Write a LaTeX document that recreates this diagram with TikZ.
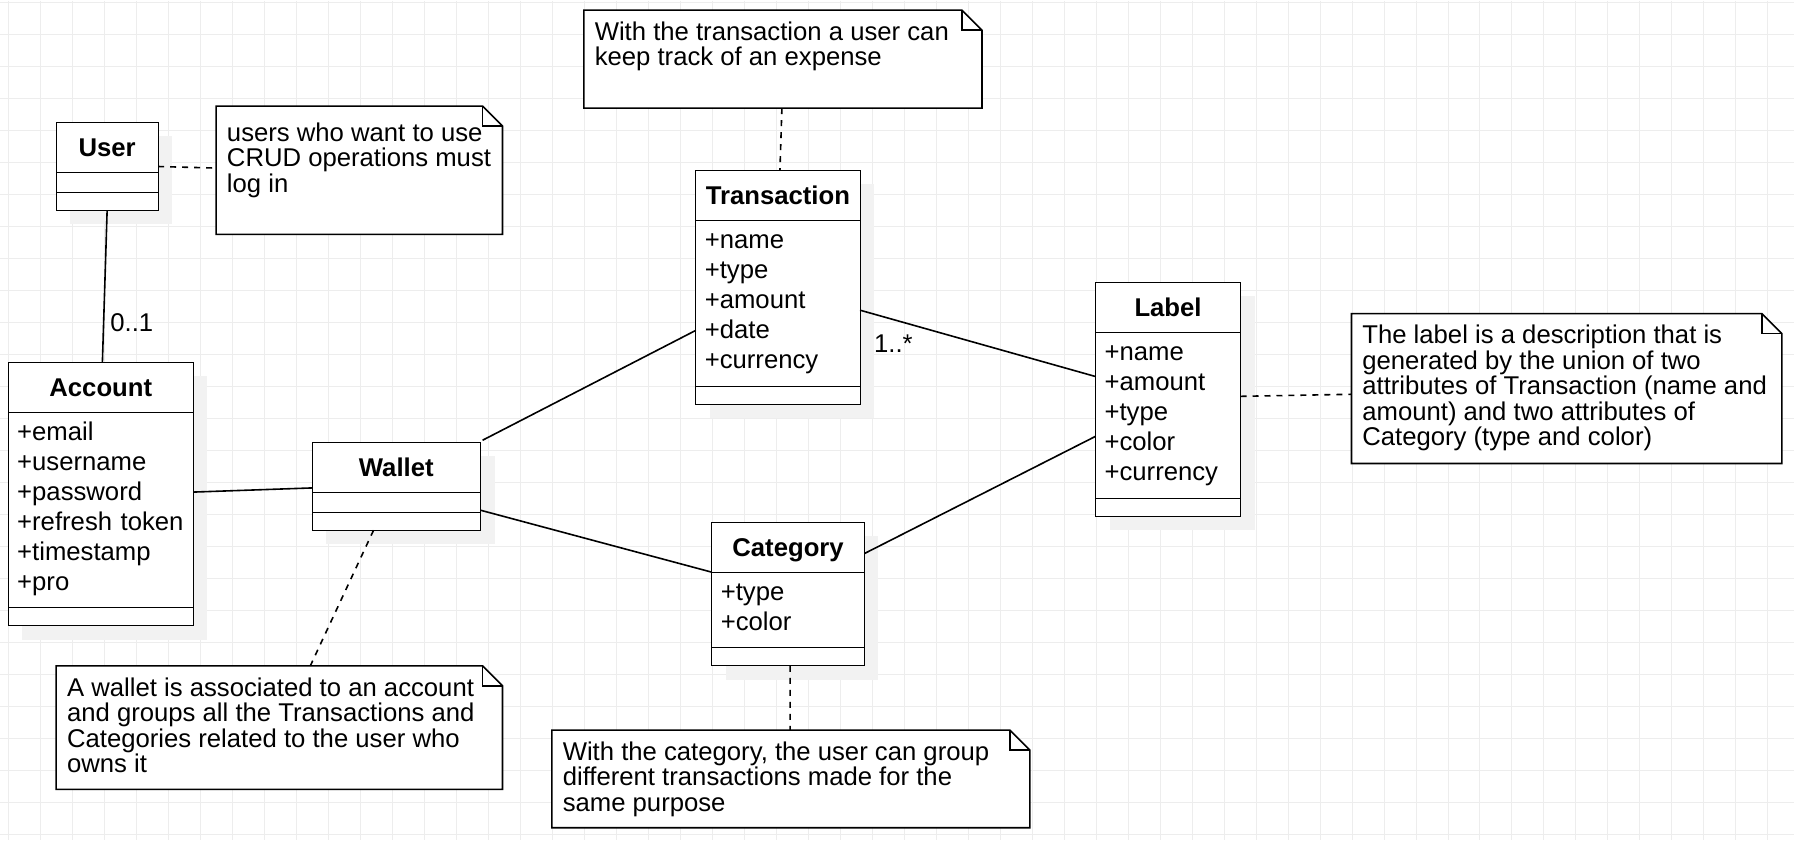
\documentclass[tikz,border=0pt]{standalone}
\usepackage{fontspec}
\setmainfont{Liberation Sans}
\usepackage{tikz}
\usetikzlibrary{positioning,calc}

\pgfdeclarelayer{background}
\pgfsetlayers{background,main}

% note outline with folded corner
\newcommand{\notefold}[1]{%
  \draw[noteline, fill=white] (#1.north west) -- ([xshift=-10pt]#1.north east)
    -- ([yshift=-10pt]#1.north east) -- (#1.south east) -- (#1.south west) -- cycle;
  \draw[noteline] ([xshift=-10pt]#1.north east) |- ([yshift=-10pt]#1.north east);}

% grey shadow behind a class (header node, footer node)
\newcommand{\classshadow}[2]{%
  \begin{pgfonlayer}{background}
    \fill[shadowfill] ([shift={(7pt,-7pt)}]#1.north west) rectangle ([shift={(7pt,-7pt)}]#2.south east);
  \end{pgfonlayer}}

\begin{document}
\begin{tikzpicture}[
    x=0.5pt, y=-0.5pt,
    font=\fontsize{12.85}{12.85}\selectfont,
    line width=0.8pt,
    classhead/.style={draw, fill=white, font=\fontsize{12.85}{12.85}\selectfont\bfseries, minimum height=25pt, text height=9.2pt, text depth=0pt, inner sep=0pt, outer sep=0pt, anchor=north west},
    classattr/.style={draw, fill=white, align=left, font=\fontsize{12.85}{15}\selectfont, text height=14pt, inner xsep=4.5pt, inner ysep=0pt, outer sep=0pt},
    classempty/.style={draw, fill=white, minimum height=#1, inner sep=0pt, outer sep=0pt},
    classempty/.default=9pt,
    notebox/.style={inner sep=0pt, outer sep=0pt, anchor=north west},
    notetext/.style={align=left, anchor=north west, inner xsep=5.25pt, inner ysep=5.65pt, font=\fontsize{12.85}{12.75}\selectfont},
    noteline/.style={line width=0.8pt},
    assoc/.style={line width=0.8pt},
    anchorline/.style={line width=0.8pt, dash pattern=on 3pt off 3pt},
    mult/.style={inner sep=0pt},
    gridline/.style={draw=black!7, line width=0.5pt},
    shadowfill/.style={fill=black!5}
]

% page and grid
\begin{pgfonlayer}{background}
  \fill[white] (0,0) rectangle (1794,840);
  \foreach \gx in {0,...,55}
    \draw[gridline] (8.3+32*\gx,0) -- (8.3+32*\gx,840);
  \foreach \gy in {0,...,26}
    \draw[gridline] (0,2+32*\gy) -- (1794,2+32*\gy);
\end{pgfonlayer}
\useasboundingbox (0,0) rectangle (1794,840);

% classes
\node[classhead, minimum width=51pt] (userh) at (55.7,121.7) {User};
\node[classempty=10pt, minimum width=51pt, below=0pt of userh] (usera) {};
\node[classempty, minimum width=51pt, below=0pt of usera] (userf) {};

\node[classhead, minimum width=92.65pt] (acch) at (7.7,362) {Account};
\node[classattr, text width=83.65pt, text depth=83.85pt, below=0pt of acch] (acca) {+email\\+username\\+password\\+refresh token\\+timestamp\\+pro};
\node[classempty, minimum width=92.65pt, below=0pt of acca] (accf) {};

\node[classhead, minimum width=84.3pt] (walleth) at (311.7,442) {Wallet};
\node[classempty=10pt, minimum width=84.3pt, below=0pt of walleth] (walleta) {};
\node[classempty, minimum width=84.3pt, below=0pt of walleta] (walletf) {};

\node[classhead, minimum width=82.15pt] (trh) at (695.7,170) {Transaction};
\node[classattr, text width=73.15pt, text depth=68.85pt, below=0pt of trh] (tra) {+name\\+type\\+amount\\+date\\+currency};
\node[classempty, minimum width=82.15pt, below=0pt of tra] (trf) {};

\node[classhead, minimum width=76.3pt] (cath) at (711.7,522) {Category};
\node[classattr, text width=67.3pt, text depth=23.85pt, below=0pt of cath] (cata) {+type\\+color};
\node[classempty, minimum width=76.3pt, below=0pt of cata] (catf) {};

\node[classhead, minimum width=72.5pt] (labh) at (1095.7,282) {Label};
\node[classattr, text width=63.5pt, text depth=68.85pt, below=0pt of labh] (laba) {+name\\+amount\\+type\\+color\\+currency};
\node[classempty, minimum width=72.5pt, below=0pt of laba] (labf) {};

\classshadow{userh}{userf}
\classshadow{acch}{accf}
\classshadow{walleth}{walletf}
\classshadow{trh}{trf}
\classshadow{cath}{catf}
\classshadow{labh}{labf}

% notes
\node[notebox, minimum width=143.3pt, minimum height=64.15pt] (unote) at (215.7,105.7) {};
\notefold{unote}
\node[notetext, yshift=-2.4pt] (unotetxt) at (unote.north west) {users who want to use\\CRUD operations must\\log in};

\node[notebox, minimum width=199.15pt, minimum height=49pt] (tnote) at (583.7,9.7) {};
\notefold{tnote}
\node[notetext] (tnotetxt) at (tnote.north west) {With the transaction a user can\\keep track of an expense};

\node[notebox, minimum width=223.3pt, minimum height=61.8pt] (wnote) at (55.7,665.7) {};
\notefold{wnote}
\node[notetext] (wnotetxt) at (wnote.north west) {A wallet is associated to an account\\and groups all the Transactions and\\Categories related to the user who\\owns it};

\node[notebox, minimum width=239.15pt, minimum height=48.85pt] (cnote) at (551.7,730) {};
\notefold{cnote}
\node[notetext] (cnotetxt) at (cnote.north west) {With the category, the user can group\\different transactions made for the\\same purpose};

\node[notebox, minimum width=215.3pt, minimum height=75pt] (lnote) at (1351.7,313.3) {};
\notefold{lnote}
\node[notetext] (lnotetxt) at (lnote.north west) {The label is a description that is\\generated by the union of two\\attributes of Transaction (name and\\amount) and two attributes of\\Category (type and color)};

% associations
\draw[assoc] (userf.south) -- node[mult, pos=0.74, anchor=west, xshift=3pt] {0..1} ([xshift=0.8pt]acch.north);
\draw[assoc] ([yshift=9pt]acca.east) -- ([yshift=-10.35pt]walleth.west);
\draw[assoc] ([shift={(1pt,1pt)}]walleth.north east) -- ([yshift=-13.6pt]tra.west);
\draw[assoc] ([yshift=-4pt]walleta.east) -- (cath.south west);
\draw[assoc] ([yshift=-3.5pt]tra.east) -- node[mult, pos=0.07, anchor=north west, xshift=-1.6pt, yshift=-9.6pt] {1..*} ([yshift=19.3pt]laba.west);
\draw[assoc] ([yshift=-3.2pt]cath.east) -- ([yshift=-10.6pt]laba.west);

% note anchors
\draw[anchorline] ([yshift=-9.7pt]userh.east) -- ([yshift=1.1pt]unote.west);
\draw[anchorline] ([xshift=-0.5pt]tnote.south) -- ([xshift=1pt]trh.north);
\draw[anchorline] ([xshift=-11.35pt]walletf.south) -- ([xshift=15.5pt]wnote.north);
\draw[anchorline] ([xshift=1pt]catf.south) -- ([xshift=-0.4pt]cnote.north);
\draw[anchorline] ([yshift=9.4pt]laba.east) -- ([yshift=-2.85pt]lnote.west);

\end{tikzpicture}
\end{document}
